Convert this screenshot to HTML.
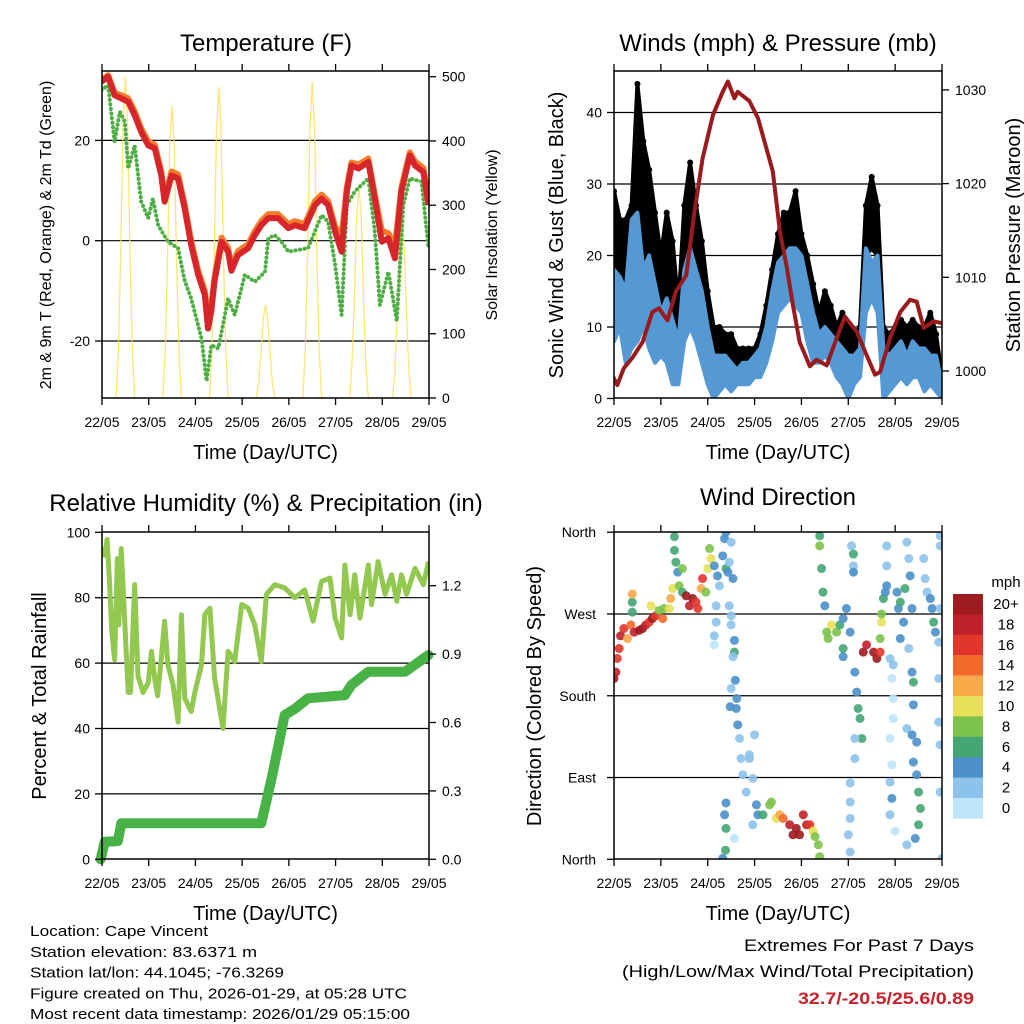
<!DOCTYPE html>
<html><head><meta charset="utf-8"><style>
html,body{margin:0;padding:0;background:#fff;}
svg{display:block;font-family:"Liberation Sans",Arial,sans-serif;}
</style></head><body>
<svg id="fig" width="1024" height="1024" viewBox="0 0 1024 1024" xmlns="http://www.w3.org/2000/svg"></svg>
<script>
// ---------- Temperature panel data ----------
const tTime=[21.99,22.13,22.27,22.41,22.56,22.7,22.84,22.99,23.13,23.27,23.34,23.49,23.63,23.77,23.91,24.06,24.2,24.27,24.34,24.41,24.56,24.7,24.77,24.91,25.13,25.27,25.41,25.56,25.77,25.99,26.13,26.34,26.56,26.7,26.84,26.99,27.13,27.24,27.34,27.49,27.7,27.84,27.99,28.13,28.27,28.41,28.59,28.7,28.88,28.99];
const tRed=[31.7,32.7,29,28.4,27.7,25,21.7,19,18.4,13,7.8,13,12.4,6.4,-0.9,-6.8,-10.8,-17.5,-14,-8,-0.2,-2.2,-6,-2.9,-1.5,1.1,3.1,4.5,4.5,2.5,3.1,2.5,7.1,8.4,7.1,1.8,-2.2,9.8,15,14.4,15.7,8.4,-0.2,0.5,-3.5,9.8,17,15,13.7,7.1];
const tOrange=[32,33,29.5,29,28.4,25.8,22.4,19.8,19.1,13.8,8.6,13.8,13.2,7.2,-0.1,-6,-10,-15.2,-13,-7.2,0.6,-1.4,-5.2,-2.1,-0.7,1.9,3.9,5.3,5.3,3.3,3.9,3.3,7.9,9.2,7.9,2.8,1,10.6,15.6,15.2,16.4,9.2,2,1.5,-1,10.6,17.6,15.8,14.5,8];
const tdTime=[21.99,22.13,22.27,22.38,22.49,22.56,22.7,22.84,22.99,23.09,23.2,23.41,23.63,23.77,23.91,24.13,24.24,24.34,24.49,24.7,24.84,25.06,25.27,25.49,25.56,25.7,25.84,25.99,26.41,26.7,26.84,26.99,27.13,27.24,27.41,27.7,27.84,27.95,28.13,28.31,28.45,28.59,28.84,28.99];
const tdGreen=[30,31,19.7,25.7,23.7,14.4,19,7.8,4.5,8.4,3.1,-0.2,-1.5,-8,-11.5,-19.5,-28,-20.8,-21.5,-11.5,-14.8,-6.8,-8.2,-6.2,0.5,1.1,-0.2,-2.2,-1.5,5.1,3.8,-4.8,-14.8,7.1,9.8,12.4,1.8,-12.8,-6.2,-16,7.1,12.4,11.8,-1.5];
const solarTime=[22.3,22.35,22.4,22.45,22.5,22.55,22.6,22.65,22.7,23.3,23.35,23.4,23.45,23.5,23.55,23.6,23.65,23.7,24.3,24.35,24.4,24.45,24.5,24.55,24.6,24.65,24.7,25.3,25.35,25.4,25.45,25.5,25.55,25.6,25.65,25.7,26.3,26.35,26.4,26.45,26.5,26.55,26.6,26.65,26.7,27.3,27.35,27.4,27.45,27.5,27.55,27.6,27.65,27.7,28.22,28.27,28.32,28.37,28.42,28.47,28.52,28.57,28.62];
const solarValue=[0,75,225,425,500,425,225,75,0,0,68,205,387,455,387,205,68,0,0,73,218,411,484,411,218,73,0,0,22,65,123,145,123,65,22,0,0,74,221,418,492,418,221,74,0,0,50,149,281,330,281,149,50,0,0,42,126,238,280,238,126,42,0];
const tempTicks=[-20,0,20];
const solarTicks=[0,100,200,300,400,500];
const dayTicks=[22,23,24,25,26,27,28,29];
const dayLabels=["22/05","23/05","24/05","25/05","26/05","27/05","28/05","29/05"];
// ---------- Winds panel data ----------
const windTime=[22,22.125,22.25,22.375,22.5,22.625,22.75,22.875,23,23.125,23.25,23.375,23.5,23.625,23.75,23.875,24,24.125,24.25,24.375,24.5,24.625,24.75,24.875,25,25.125,25.25,25.375,25.5,25.625,25.75,25.875,26,26.125,26.25,26.375,26.5,26.625,26.75,26.875,27,27.125,27.25,27.375,27.5,27.625,27.75,27.875,28,28.125,28.25,28.375,28.5,28.625,28.75,28.875,29];
const windMin=[8,10,5,7,8,10,7,5,6,5,2,2,8,10,8,5,2,0,1,2,1,2,2,2,3,3,5,8,12,13,14,13,12,8,5,5,6,5,3,2,0,2,3,12,14,12,0,1,2,3,2,3,3,1,2,1,0];
const windMax=[18,17,15,25,26,18,20,16,12,14,11,8,18,21,18,15,10,6,6,6,5,4,5,5,6,7,10,15,19,20,21,21,20,16,12,9,10,9,8,7,6,6,7,21,19,20,7,6,7,8,6,8,7,7,6,6,2];
const gustMin=[15,18,12,15,20,18,15,10,10,10,8,8,13,15,14,11,6,4,4,4,4,4,3,4,4,5,7,10,15,17,17,16,16,12,8,7,8,7,6,5,3,4,5,20,21,20,4,4,4,5,5,5,6,5,6,5,0];
const gustMax=[29,25,25,27,44,36,32,26,20,26,22,13,27,33,27,22,15,10,10,9,9,7,7,7,7,9,13,18,23,26,26,29,23,20,16,12,15,13,10,12,10,9,10,27,31,27,10,9,10,11,10,11,10,10,12,9,3];
const presTime=[21.96,22.07,22.21,22.39,22.61,22.82,22.96,23.14,23.32,23.54,23.71,23.89,24.11,24.32,24.43,24.57,24.64,24.89,25.07,25.25,25.39,25.54,25.68,25.82,25.96,26.18,26.32,26.54,26.75,26.93,27.18,27.39,27.57,27.68,27.89,28.11,28.32,28.46,28.61,28.82,29.0];
const presValue=[999.6,998.5,1000.3,1001.4,1003.1,1006.3,1006.7,1005.4,1008.5,1010.2,1016.7,1022.7,1027.3,1029.8,1030.9,1029.1,1029.8,1028.8,1027,1023.8,1021.3,1014.9,1011.3,1007,1003.1,1000.5,1001.2,1000.6,1003.5,1005.8,1004.2,1001.7,999.6,999.9,1003.5,1006.3,1007.6,1007.4,1004.6,1005.3,1005.1];
const windTicks=[0,10,20,30,40];
const presTicks=[1000,1010,1020,1030];
// ---------- RH / precip data ----------
const rhTime=[21.99,22.06,22.11,22.16,22.21,22.27,22.33,22.36,22.41,22.49,22.56,22.61,22.7,22.77,22.88,22.99,23.06,23.13,23.19,23.27,23.34,23.41,23.52,23.63,23.7,23.77,23.91,23.99,24.13,24.2,24.31,24.41,24.59,24.7,24.84,24.99,25.13,25.27,25.41,25.52,25.7,25.91,26.13,26.34,26.52,26.7,26.88,26.99,27.13,27.2,27.31,27.41,27.52,27.7,27.77,27.91,28.06,28.2,28.31,28.41,28.52,28.7,28.88,28.99];
const rhValue=[95.2,93,97.8,85,69.7,61,92,71.7,95,71.7,51,51,84,56,51,54,63.6,55,50,61.5,72.8,59.5,53.4,42,74.8,49.3,45.2,51.3,59.5,74.8,76.8,55.4,40,63.6,60.5,77.9,76.8,71.7,60.5,81,84,83,80,82.4,72.8,85,86,73.8,67.7,90,74.8,87,73.8,90,77.9,91,81,87,78.9,87,81,89,84,91];
const precipTime=[21.97,22.06,22.34,22.41,25.41,25.63,25.91,26.13,26.41,27.2,27.34,27.7,28.49,28.99];
const precipValue=[0,0.077,0.08,0.158,0.158,0.355,0.633,0.66,0.706,0.72,0.765,0.823,0.823,0.896];
const rhTicks=[0,20,40,60,80,100];
const precipTicks=[0.0,0.3,0.6,0.9,1.2];
// ---------- Wind direction data ----------
const dirTime=[
22.00,22.04,22.07,22.11,22.14,22.21,22.29,22.36,22.39,22.39,22.39,22.43,22.54,22.61,22.68,22.75,22.79,22.82,22.89,22.96,
23.04,23.07,23.18,23.21,23.25,23.29,23.29,23.32,23.36,23.39,23.46,23.46,23.54,23.61,23.68,23.75,23.79,23.86,23.89,23.96,
24.00,24.04,24.07,24.14,24.21,24.25,24.32,24.36,24.39,24.39,24.43,24.46,24.50,24.54,24.46,24.18,24.18,24.14,24.14,24.50,
24.50,24.57,24.57,24.54,24.59,24.62,24.61,24.64,24.50,24.48,24.68,24.71,24.75,24.82,24.89,24.89,24.96,25.00,25.04,25.07,
24.96,24.39,24.36,24.39,24.38,24.32,24.57,25.18,25.32,25.36,25.46,25.54,25.61,25.75,25.82,25.89,25.96,26.04,26.11,26.18,
26.25,26.29,26.36,26.39,26.39,26.39,26.43,26.46,26.50,26.54,26.57,26.64,26.75,26.82,26.89,26.96,27.04,26.89,26.89,27.07,
27.11,27.11,27.11,27.14,27.18,27.21,27.25,27.29,27.14,27.14,27.04,27.04,27.04,27.00,27.04,27.32,27.39,27.54,27.61,27.68,
27.68,27.71,27.71,27.75,27.79,27.82,27.82,27.82,27.89,27.96,27.93,27.96,27.96,27.89,27.93,27.89,27.93,27.89,28.00,28.04,
28.07,28.11,28.11,28.18,28.21,28.25,28.29,28.32,28.36,28.29,28.36,28.39,28.39,28.25,28.36,28.46,28.39,28.46,28.50,28.54,
28.50,28.43,28.25,28.61,28.64,28.68,28.75,28.79,28.82,28.86,28.93,28.96,28.96,28.96,28.93,28.93,28.96,28.96,29.00];
const dirDeg=[
199,206,221,232,246,254,243,258,272,283,292,250,252,254,258,261,279,265,268,274,
265,276,276,287,298,340,355,327,316,301,320,294,290,279,287,283,276,298,309,294,
320,342,331,323,312,301,334,353,360,320,316,327,349,309,279,279,261,246,236,268,
258,241,228,223,197,177,166,148,188,168,133,111,93,74,111,115,89,137,60,49,
38,62,49,34,10,1,23,49,60,63,45,49,45,38,27,34,27,49,38,38,
31,25,16,3,356,345,320,294,279,250,243,258,250,258,265,276,250,232,223,345,
336,323,316,206,184,166,155,133,133,111,84,63,45,27,8,228,236,228,221,228,
243,261,270,287,294,301,345,323,221,214,199,177,155,133,104,85,67,49,31,294,
276,283,243,261,298,349,331,312,276,232,206,195,170,144,137,129,107,93,74,56,
38,23,16,331,309,294,287,276,261,250,239,276,356,345,199,151,126,74,1];
const dirSpeed=[
20,18,16,16,18,16,12,14,6,6,12,18,20,20,18,16,10,20,16,8,
14,8,10,12,10,6,6,6,4,8,8,6,20,18,20,16,16,12,16,8,
10,8,10,4,4,2,4,4,4,6,4,2,2,4,2,2,2,2,0,2,
2,4,6,2,4,4,4,4,2,4,2,2,2,2,2,2,2,2,4,4,
2,4,4,6,6,4,0,6,8,8,10,12,14,18,20,20,20,18,18,16,
10,8,8,8,6,8,6,6,4,8,8,10,8,6,4,4,4,6,4,2,
6,2,4,4,4,6,6,6,2,2,2,2,2,2,2,20,18,20,20,16,
8,10,8,6,4,4,2,2,2,2,0,0,0,0,0,2,4,2,0,4,
4,6,4,4,6,2,2,4,4,2,4,6,4,2,4,4,4,4,6,6,
6,4,2,2,2,2,4,4,6,4,2,2,2,2,2,2,2,2,2];
const dirTicks=[0,90,180,270,360];
const dirLabels=["North","East","South","West","North"];
const speedBins=["20+","18","16","14","12","10","8","6","4","2","0"];
const speedColors=["#9e1b20","#c0202a","#e1362b","#f26a2b","#f8a94a","#e8e05a","#7dc24a","#45a673","#4b90c9","#8dc3ea","#bde4f8"];

// ---------- helpers ----------
const NS="http://www.w3.org/2000/svg";
const svg=document.getElementById('fig');
function mk(tag,attrs,parent){const e=document.createElementNS(NS,tag);for(const k in attrs)e.setAttribute(k,attrs[k]);(parent||svg).appendChild(e);return e;}
function txt(s,x,y,size,anchor,extra){const e=mk('text',Object.assign({x:x,y:y,'font-size':size,'text-anchor':anchor||'middle',fill:'#000'},extra||{}));e.textContent=s;return e;}
function pathD(xs,ys){return xs.map((v,i)=>(i?'L':'M')+v.toFixed(1)+' '+ys[i].toFixed(1)).join(' ');}

const P1={x0:102,x1:429,y0:71,y1:398};
const P2={x0:614,x1:942,y0:71,y1:398};
const P3={x0:102,x1:429,y0:532,y1:859};
const P4={x0:614,x1:942,y0:532,y1:859};
function dayX(P){return d=>P.x0+(d-22)*(P.x1-P.x0)/7;}
const x1=dayX(P1),x2=dayX(P2),x3=dayX(P3),x4=dayX(P4);
const yT=v=>240.7-v*5.015, yS=v=>398-v*0.6426;
const yW=v=>398.5-v*7.15, yP=v=>371-(v-1000)*9.37;
const yRH=v=>859.3-v*3.27, yPr=v=>859.3-v*228;
const yD=v=>859.3-v*0.9086;

function clip(id,P){const cp=mk('clipPath',{id:id});mk('rect',{x:P.x0,y:P.y0,width:P.x1-P.x0,height:P.y1-P.y0},cp);}
clip('c1',P1);clip('c2',P2);clip('c3',P3);clip('c4',P4);

function xAxis(P,xf,name){
  const g=mk('g',{});
  
  
  dayTicks.forEach((d,i)=>{
    mk('line',{x1:xf(d),x2:xf(d),y1:P.y1,y2:P.y1+7,stroke:'#000','stroke-width':1.3},g);
    mk('line',{x1:xf(d),x2:xf(d),y1:P.y0,y2:P.y0-7,stroke:'#000','stroke-width':1.3},g);
    const t=txt(dayLabels[i],xf(d),P.y1+29,14);g.appendChild(t);
  });
  const tt=txt('Time (Day/UTC)',(P.x0+P.x1)/2,P.y1+61,20);
  
  
}
function frame(P,name){
  const r=mk('rect',{x:P.x0,y:P.y0,width:P.x1-P.x0,height:P.y1-P.y0,fill:'none',stroke:'#000','stroke-width':1.5});
  
  
}
function grid(P,ys){ys.forEach(y=>mk('line',{x1:P.x0,x2:P.x1,y1:y,y2:y,stroke:'#000','stroke-width':1.2}));}

// ---------- Panel 1 ----------
{
  const t=txt('Temperature (F)',266,51,24);
  
  
  grid(P1,tempTicks.map(yT));
  const g=mk('g',{'clip-path':'url(#c1)'});
  const sol=mk('path',{d:pathD(solarTime.map(x1),solarValue.map(yS)),fill:'none',stroke:'#fde25a','stroke-width':1.3,opacity:0.85},g);
  
  
  const td=mk('path',{d:pathD(tdTime.map(x1),tdGreen.map(yT)),fill:'none',stroke:'#4cae43','stroke-width':4,'stroke-dasharray':'0.1 4.5','stroke-linecap':'round'},g);
  
  
  const tdl=mk('path',{d:pathD(tdTime.map(x1),tdGreen.map(yT)),fill:'none',stroke:'#4cae43','stroke-width':1.2,opacity:0.6},g);
  
  
  const to=mk('path',{d:pathD(tTime.map(x1),tOrange.map(yT)),fill:'none',stroke:'#f47c2a','stroke-width':6,'stroke-linejoin':'round'},g);
  
  
  const tr=mk('path',{d:pathD(tTime.map(x1),tRed.map(yT)),fill:'none',stroke:'#d7262b','stroke-width':6,'stroke-linejoin':'round'},g);
  
  
  frame(P1,'temperature-plot-frame');
  tempTicks.forEach(v=>{mk('line',{x1:P1.x0-7,x2:P1.x0,y1:yT(v),y2:yT(v),stroke:'#000','stroke-width':1.3});txt(String(v),P1.x0-12,yT(v)+5,14,'end');});
  solarTicks.forEach(v=>{mk('line',{x1:P1.x1,x2:P1.x1+7,y1:yS(v),y2:yS(v),stroke:'#000','stroke-width':1.3});txt(String(v),P1.x1+13,yS(v)+5,14,'start');});
  const yl=txt('2m & 9m T (Red, Orange) & 2m Td (Green)',0,0,16,'middle',{transform:'translate(51,235) rotate(-90)'});
  
  
  const yr=txt('Solar Insolation (Yellow)',0,0,16,'middle',{transform:'translate(497,235) rotate(-90)'});
  
  
  xAxis(P1,x1,'temperature-x-axis');
}
// ---------- Panel 2 ----------
{
  const t=txt('Winds (mph) & Pressure (mb)',778,51,24);
  
  
  grid(P2,windTicks.slice(1).map(yW));
  const g=mk('g',{'clip-path':'url(#c2)'});
  const gx=windTime.map(x2);
  const gb=mk('path',{d:pathD(gx,gustMax.map(yW))+' '+pathD(gx.slice().reverse(),gustMin.slice().reverse().map(yW)).replace('M','L')+' Z',fill:'#000',stroke:'#000','stroke-width':4,'stroke-linejoin':'round'},g);
  
  
  windTime.forEach((d,i)=>{
    const c=mk('circle',{cx:x2(d),cy:yW(gustMax[i]),r:3,fill:'#000'},g);
    
    
  });
  const wb=mk('path',{d:pathD(gx,windMax.map(yW))+' '+pathD(gx.slice().reverse(),windMin.slice().reverse().map(yW)).replace('M','L')+' Z',fill:'#5499d3',stroke:'#5499d3','stroke-width':4,'stroke-linejoin':'round'},g);
  
  
  const pr=mk('path',{d:pathD(presTime.map(x2),presValue.map(yP)),fill:'none',stroke:'#9a1a1e','stroke-width':4,'stroke-linejoin':'round'},g);
  
  
  frame(P2,'winds-plot-frame');
  windTicks.forEach(v=>{mk('line',{x1:P2.x0-7,x2:P2.x0,y1:yW(v),y2:yW(v),stroke:'#000','stroke-width':1.3});txt(String(v),P2.x0-12,yW(v)+5,14,'end');});
  presTicks.forEach(v=>{mk('line',{x1:P2.x1,x2:P2.x1+7,y1:yP(v),y2:yP(v),stroke:'#000','stroke-width':1.3});txt(String(v),P2.x1+13,yP(v)+5,14,'start');});
  const yl=txt('Sonic Wind & Gust (Blue, Black)',0,0,20,'middle',{transform:'translate(563,235) rotate(-90)'});
  
  
  const yr=txt('Station Pressure (Maroon)',0,0,20,'middle',{transform:'translate(1020,235) rotate(-90)'});
  
  
  xAxis(P2,x2,'winds-x-axis');
}
// ---------- Panel 3 ----------
{
  const t=txt('Relative Humidity (%) & Precipitation (in)',266,511,24);
  
  
  grid(P3,rhTicks.slice(1,5).map(yRH));
  const g=mk('g',{'clip-path':'url(#c3)'});
  const rh=mk('path',{d:pathD(rhTime.map(x3),rhValue.map(yRH)),fill:'none',stroke:'#92c84f','stroke-width':5,'stroke-linejoin':'round'},g);
  
  
  const pc=mk('path',{d:pathD(precipTime.map(x3),precipValue.map(yPr)),fill:'none',stroke:'#49b246','stroke-width':10,'stroke-linejoin':'round','stroke-linecap':'round'});
  
  
  frame(P3,'humidity-plot-frame');
  rhTicks.forEach(v=>{mk('line',{x1:P3.x0-7,x2:P3.x0,y1:yRH(v),y2:yRH(v),stroke:'#000','stroke-width':1.3});txt(String(v),P3.x0-12,yRH(v)+5,14,'end');});
  precipTicks.forEach(v=>{mk('line',{x1:P3.x1,x2:P3.x1+7,y1:yPr(v),y2:yPr(v),stroke:'#000','stroke-width':1.3});txt(v.toFixed(1),P3.x1+13,yPr(v)+5,14,'start');});
  const yl=txt('Percent & Total Rainfall',0,0,20,'middle',{transform:'translate(46,696) rotate(-90)'});
  
  
  xAxis(P3,x3,'humidity-x-axis');
}
// ---------- Panel 4 ----------
{
  const t=txt('Wind Direction',778,505,24);
  
  
  grid(P4,dirTicks.slice(1,4).map(yD));
  const g=mk('g',{'clip-path':'url(#c4)'});
  function binIdx(s){const b=Math.min(10,Math.floor(s/2));return 10-b;}
  dirTime.forEach((d,i)=>{
    const c=mk('circle',{cx:x4(d),cy:yD(dirDeg[i]),r:4.5,fill:speedColors[binIdx(dirSpeed[i])],opacity:0.9},g);
    
    
  });
  frame(P4,'wind-direction-plot-frame');
  dirTicks.forEach((v,i)=>{mk('line',{x1:P4.x0-7,x2:P4.x0,y1:yD(v),y2:yD(v),stroke:'#000','stroke-width':1.3});txt(dirLabels[i],P4.x0-18,yD(v)+5,14,'end');});
  const yl=txt('Direction (Colored By Speed)',0,0,20,'middle',{transform:'translate(541,696) rotate(-90)'});
  
  
  xAxis(P4,x4,'wind-direction-x-axis');
  const cb=mk('g',{});
  
  
  const u=txt('mph',1006,587,15);cb.appendChild(u);
  speedBins.forEach((lab,i)=>{
    const r=mk('rect',{x:953,y:594+i*20.4,width:30,height:20.6,fill:speedColors[i]},cb);
    
    
    const l=txt(lab,1006,609+i*20.4,15);cb.appendChild(l);
  });
}
// ---------- Footer ----------
{
  const lines=["Location: Cape Vincent","Station elevation: 83.6371 m","Station lat/lon: 44.1045; -76.3269","Figure created on Thu, 2026-01-29, at 05:28 UTC","Most recent data timestamp: 2026/01/29 05:15:00"];
  const lens=[178,227,254,377,380];
  lines.forEach((s,i)=>{
    const e=txt(s,30,936+i*20.8,15,'start',{textLength:lens[i],lengthAdjust:'spacingAndGlyphs'});
    
    
  });
  const a=txt('Extremes For Past 7 Days',974,951,17,'end',{textLength:230,lengthAdjust:'spacingAndGlyphs'});
  
  
  const b=txt('(High/Low/Max Wind/Total Precipitation)',974,977,17,'end',{textLength:352,lengthAdjust:'spacingAndGlyphs'});
  
  
  const c=txt('32.7/-20.5/25.6/0.89',974,1004,17,'end',{fill:'#c8202a','font-weight':'bold',textLength:176,lengthAdjust:'spacingAndGlyphs'});
  
  
}
</script>
</body></html>
